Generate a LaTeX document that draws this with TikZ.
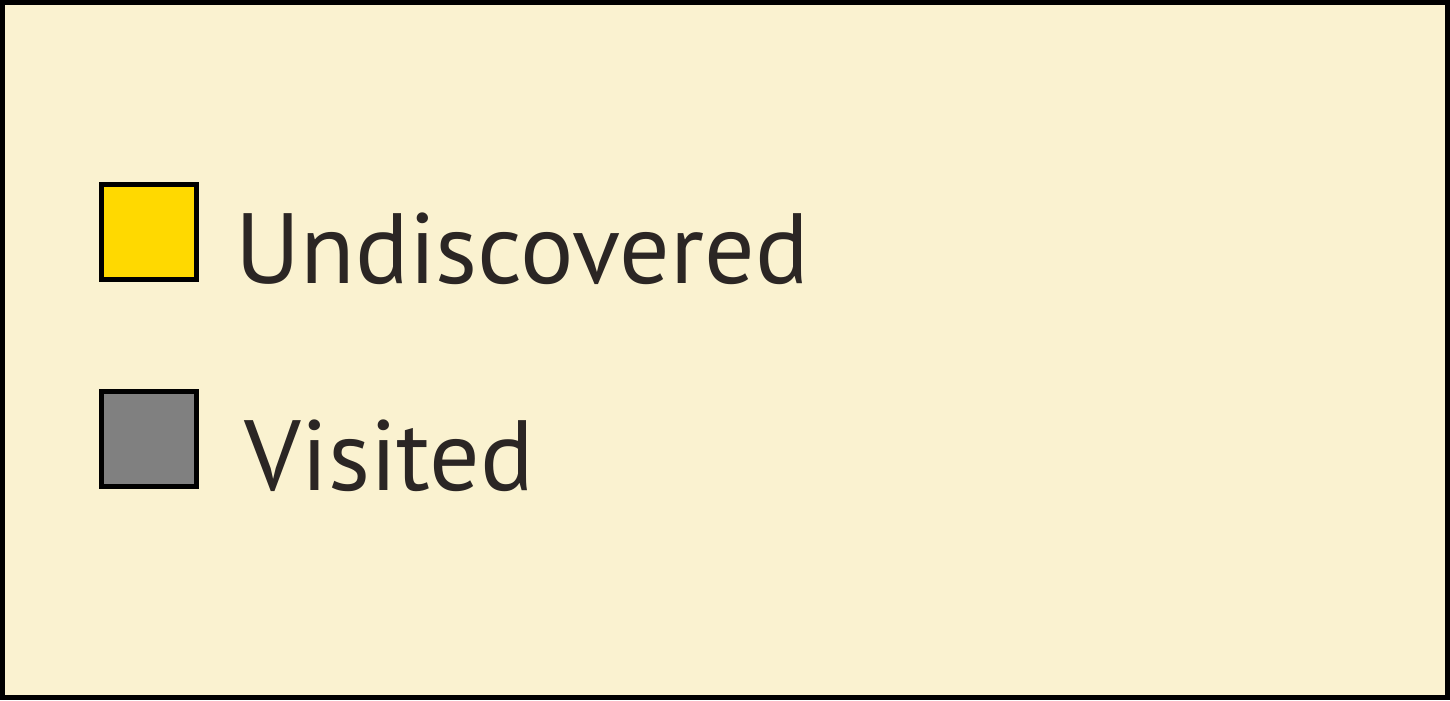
\documentclass[tikz,border=0pt]{standalone}
\usepackage{fontspec}
\setmainfont{PT Sans}
\usepackage{tikz}
\definecolor{legendbg}{HTML}{FAF2D0}
\definecolor{undisc}{HTML}{FFD900}
\definecolor{visit}{HTML}{808080}
\definecolor{labeltext}{HTML}{2B2624}
\tikzset{
  keybox/.style={draw=black, line width=1.42pt, minimum size=9.5mm, inner sep=0pt},
  keylabel/.style={anchor=base west, inner sep=0pt, text=labeltext, font=\fontsize{28.4}{34}\selectfont}
}
\begin{document}
\begin{tikzpicture}[x=0.1mm,y=-0.1mm]
  % frame
  \draw[fill=legendbg, line width=1.42pt] (2.5,2.5) rectangle (1447.5,697.5);
  \useasboundingbox (0,0) rectangle (1450,700);

 % legend entries
 \node[keybox, fill=undisc] (undiscbox) at (149,232) {};
 \node[keybox, fill=visit] (visitbox) at (149,439) {};
 \node[keylabel] (undisctext) at (235,283) {Undiscovered};
 \node[keylabel] (visittext) at (244,490) {Visited};
\end{tikzpicture}
\end{document}
